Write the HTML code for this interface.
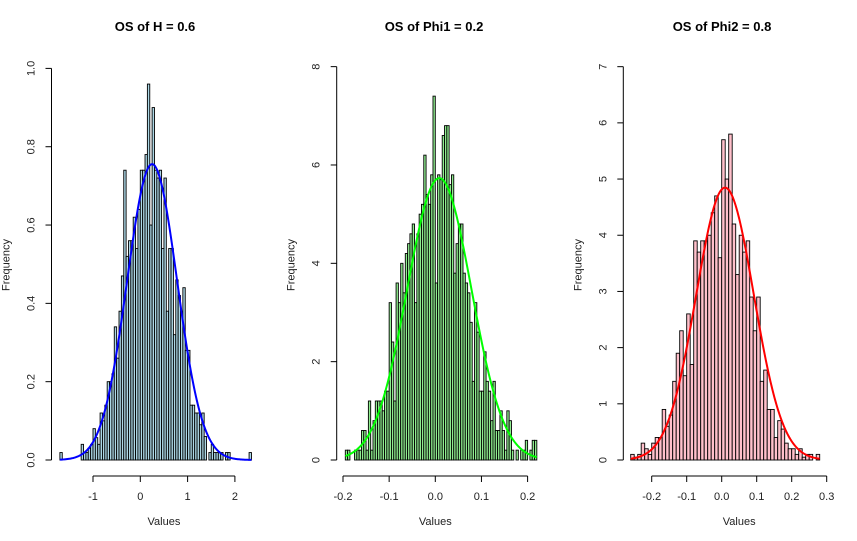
<!DOCTYPE html>
<html><head><meta charset="utf-8"><style>
html,body{margin:0;padding:0;background:#fff;}
svg{display:block;font-family:"Liberation Sans",Arial,sans-serif;}
</style></head><body>
<svg id="chart" width="857" height="541" xmlns="http://www.w3.org/2000/svg"></svg>
<script>
// Panel 1: OS of H
const hBreakStart = -1.7, hBinWidth = 0.05;
const hValues = [0.019,0,0,0,0,0,0,0,0,0.04,0.019,0.019,0.03,0.04,0.08,0.057,0.04,0.12,0.10,0.14,0.20,0.20,0.22,0.34,0.26,0.38,0.47,0.74,0.52,0.56,0.56,0.62,0.54,0.64,0.74,0.74,0.78,0.96,0.60,0.90,0.74,0.72,0.74,0.54,0.72,0.38,0.54,0.54,0.32,0.46,0.42,0.38,0.44,0.28,0.28,0.14,0.14,0.12,0.12,0.09,0.12,0.06,0,0.019,0.04,0.019,0.019,0.019,0.019,0,0.019,0.019,0,0,0,0,0,0,0,0,0.019];
const hXTicks = [-1,0,1,2];
const hYTicks = ["0.0","0.2","0.4","0.6","0.8","1.0"];
const hCurve = {mean:0.25, sd:0.528};
// Panel 2: OS of Phi1
const p1BreakStart = -0.195, p1BinWidth = 0.005;
const p1Values = [0.2,0.2,0,0,0.2,0.2,0.2,0.6,0.6,0.2,1.2,0.2,0.8,1.2,1.2,1.2,1.0,1.4,1.4,3.2,2.4,1.2,3.6,3.2,4.0,3.4,4.2,4.4,4.6,4.8,3.2,4.6,5.0,5.2,6.2,5.4,5.2,5.8,7.4,3.6,5.8,5.7,6.6,6.8,6.8,5.6,5.8,3.8,4.4,4.8,4.8,3.8,3.6,3.4,2.8,1.6,3.2,2.6,1.4,1.4,2.2,1.6,1.4,0.8,1.6,0.6,0.6,1.0,0.6,0.2,1.0,0.8,0.2,0,0.2,0,0.2,0.2,0.4,0,0.2,0.4,0.4];
const p1XTicks = [-0.2,-0.1,0.0,0.1,0.2];
const p1YTicks = [0,2,4,6,8];
const p1Curve = {mean:0.0087, sd:0.0696};
// Panel 3: OS of Phi2
const p2BreakStart = -0.26, p2BinWidth = 0.01;
const p2Values = [0.1,0.05,0.1,0.3,0.2,0.1,0.3,0.4,0.4,0.9,0.6,0.8,1.4,1.9,2.3,1.5,2.6,1.7,3.9,3.7,3.9,3.9,4.0,4.4,4.7,3.6,5.7,5.0,5.8,4.2,3.3,4.0,3.7,3.9,2.9,2.3,2.9,1.4,1.6,0.9,0.9,0.4,0.7,0.55,0.3,0.2,0.2,0.1,0.2,0.05,0.1,0.1,0,0.1];
const p2XTicks = [-0.2,-0.1,0.0,0.1,0.2,0.3];
const p2YTicks = [0,1,2,3,4,5,6,7];
const p2Curve = {mean:0.0095, sd:0.0823};

const svg = document.getElementById('chart');
const NS = 'http://www.w3.org/2000/svg';
function mk(tag, attrs, parent){ const e=document.createElementNS(NS,tag); for(const k in attrs) e.setAttribute(k,attrs[k]); (parent||svg).appendChild(e); return e; }

const panels = [
 {key:'h', title:'OS of H = 0.6', start:hBreakStart, bw:hBinWidth, vals:hValues, xt:hXTicks, yt:hYTicks, curve:hCurve,
  fill:'#add8e6', line:'#0000ff', x0:140.3, xs:47.3, y0:460, ys:391.6, yAxisX:51.5, titleX:155},
 {key:'phi1', title:'OS of Phi1 = 0.2', start:p1BreakStart, bw:p1BinWidth, vals:p1Values, xt:p1XTicks, yt:p1YTicks, curve:p1Curve,
  fill:'#90ee90', line:'#00ff00', x0:435.3, xs:461.5, y0:460, ys:49.17, yAxisX:336.7, titleX:434},
 {key:'phi2', title:'OS of Phi2 = 0.8', start:p2BreakStart, bw:p2BinWidth, vals:p2Values, xt:p2XTicks, yt:p2YTicks, curve:p2Curve,
  fill:'#ffc0cb', line:'#ff0000', x0:721.7, xs:350, y0:460, ys:56.19, yAxisX:623.3, titleX:722}
];

panels.forEach(p=>{
  const g = mk('g',{});
  
  
  const X = v => p.x0 + v*p.xs;
  const Y = v => p.y0 - v*p.ys;
  const t = mk('text',{x:p.titleX,y:31,'text-anchor':'middle','font-size':'13','font-weight':'bold',fill:'#000'},g);
  t.textContent = p.title;
  
  
  p.vals.forEach((v,i)=>{
    const xl = X(p.start + i*p.bw), xr = X(p.start + (i+1)*p.bw);
    const r = mk('rect',{x:xl,y:Y(v),width:xr-xl,height:Math.max(0,p.y0-Y(v)),fill:p.fill,stroke:'#000','stroke-width':'0.9'},g);
    
    
  });
  const lo = p.start, hi = p.start + p.vals.length*p.bw;
  let d='';
  for(let k=0;k<=200;k++){
    const x = lo + (hi-lo)*k/200;
    const y = Math.exp(-0.5*Math.pow((x-p.curve.mean)/p.curve.sd,2))/(p.curve.sd*Math.sqrt(2*Math.PI));
    d += (k?'L':'M')+X(x).toFixed(2)+','+Y(y).toFixed(2);
  }
  const c = mk('path',{d:d,fill:'none',stroke:p.line,'stroke-width':'2'},g);
  
  
  const xa = mk('g',{},g);
  
  
  const xmin = X(p.xt[0]), xmax = X(p.xt[p.xt.length-1]);
  mk('line',{x1:xmin,y1:476,x2:xmax,y2:476,stroke:'#000','stroke-width':'1'},xa);
  p.xt.forEach(v=>{
    mk('line',{x1:X(v),y1:476,x2:X(v),y2:482,stroke:'#000','stroke-width':'1'},xa);
    const tl = mk('text',{x:X(v),y:500,'text-anchor':'middle','font-size':'11',fill:'#222'},xa);
    tl.textContent = p.key==='h' ? String(v) : v.toFixed(1);
    
    
  });
  const xl = mk('text',{x:(xmin+xmax)/2,y:525,'text-anchor':'middle','font-size':'11',fill:'#222'},g);
  xl.textContent='Values';
  
  
  const ya = mk('g',{},g);
  
  
  const yvals = p.yt.map(Number);
  mk('line',{x1:p.yAxisX,y1:Y(yvals[0]),x2:p.yAxisX,y2:Y(yvals[yvals.length-1]),stroke:'#000','stroke-width':'1'},ya);
  p.yt.forEach(s=>{
    const v = Number(s);
    mk('line',{x1:p.yAxisX-6,y1:Y(v),x2:p.yAxisX,y2:Y(v),stroke:'#000','stroke-width':'1'},ya);
    const tx = p.yAxisX-17;
    const tl = mk('text',{x:tx,y:Y(v),'text-anchor':'middle','font-size':'11',fill:'#222',transform:'rotate(-90 '+tx+' '+Y(v)+')'},ya);
    tl.textContent = String(s);
    
    
  });
  const yx = p.yAxisX-42, yy = 265;
  const yl = mk('text',{x:yx,y:yy,'text-anchor':'middle','font-size':'11',fill:'#222',transform:'rotate(-90 '+yx+' '+yy+')'},g);
  yl.textContent='Frequency';
  
  
});
</script>
</body></html>
